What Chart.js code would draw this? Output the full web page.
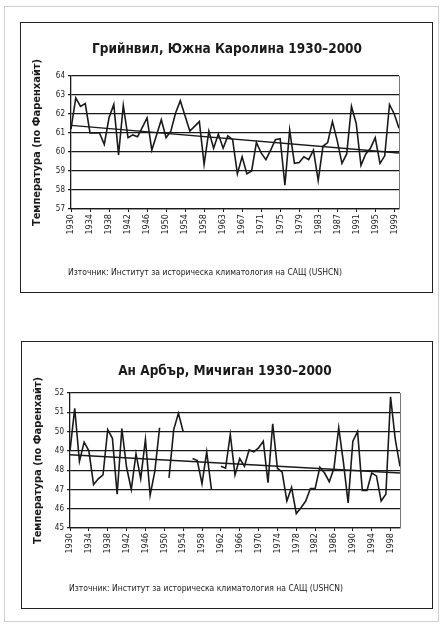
<!DOCTYPE html>
<html>
<head>
<meta charset="utf-8">
<script src="https://cdn.jsdelivr.net/npm/chart.js@4.4.0/dist/chart.umd.min.js"></script>
<style>
  body { margin: 0; background: #fff; width: 442px; height: 626px; position: relative; overflow: hidden;
         font-family: 'Liberation Sans Narrow', 'DejaVu Sans Condensed', 'Liberation Sans', sans-serif; }
  .page { position: absolute; left: 4px; top: 6px; width: 433px; height: 614px; border: 1px solid #cfcfcf; }
  .frame { position: absolute; border: 1.5px solid #222; }
  canvas { position: absolute; }
  .note { position: absolute; font-size: 8.5px; color: #222; white-space: nowrap; }
  .title { position: absolute; width: 400px; height: 18px; line-height: 18px; text-align: center;
           font-size: 13.5px; font-weight: bold; color: #1a1a1a; white-space: nowrap; }
</style>
</head>
<body>
<div class="page"></div>
<div class="frame" style="left:20px;top:22px;width:411px;height:269px"></div>
<div class="frame" style="left:21px;top:341px;width:410px;height:266px"></div>
<canvas id="chartTop" style="left:21px;top:23px" width="412" height="270"></canvas>
<canvas id="chartBottom" style="left:22px;top:342px" width="410" height="266"></canvas>
<div class="title" style="left:27px;top:39px">Грийнвил, Южна Каролина 1930–2000</div>
<div class="title" style="left:25px;top:361px">Ан Арбър, Мичиган 1930–2000</div>
<div class="note" style="left:68px;top:267px">Източник: Институт за историческа климатология на САЩ (USHCN)</div>
<div class="note" style="left:69px;top:583px">Източник: Институт за историческа климатология на САЩ (USHCN)</div>

<script>
// ---- данни: Грийнвил, Южна Каролина (една година липсва в източника) ----
const yearsTop = ['1930','1931','1932','1933','1934','1935','1936','1937','1938','1939',
  '1940','1941','1942','1943','1944','1945','1946','1947','1948','1949',
  '1950','1951','1952','1953','1954','1955','1956','1957','1958','1959',
  '1960','1962','1963','1964','1965','1966','1967','1968','1969','1970',
  '1971','1972','1973','1974','1975','1976','1977','1978','1979','1980',
  '1981','1982','1983','1984','1985','1986','1987','1988','1989','1990',
  '1991','1992','1993','1994','1995','1996','1997','1998','1999','2000'];
const tempGreenville = [61.2, 62.85, 62.4, 62.55, 61.0, 61.0, 61.0, 60.4, 61.8, 62.5,
  59.85, 62.45, 60.75, 60.9, 60.8, 61.3, 61.8, 60.1, 60.9, 61.7,
  60.75, 61.1, 62.05, 62.7, 61.9, 61.1, 61.35, 61.6, 59.35, 61.1,
  60.2, 60.95, 60.2, 60.85, 60.65, 58.85, 59.75, 58.85, 59.0, 60.5,
  59.95, 59.6, 60.1, 60.65, 60.7, 58.25, 61.15, 59.4, 59.45, 59.75,
  59.6, 60.1, 58.5, 60.3, 60.5, 61.6, 60.6, 59.4, 59.9, 62.4,
  61.5, 59.3, 59.9, 60.2, 60.75, 59.4, 59.8, 62.5, 62.0, 61.25];
const trendGreenville = [61.4, 59.95];   // начало и край на линията на тренда

// ---- данни: Ан Арбър, Мичиган (null = липсваща година) ----
const yearsBottom = ['1930','1931','1932','1933','1934','1935','1936','1937','1938','1939',
  '1940','1941','1942','1943','1944','1945','1946','1947','1948','1949',
  '1950','1951','1952','1953','1954','1955','1956','1957','1958','1959',
  '1960','1961','1962','1963','1964','1965','1966','1967','1968','1969',
  '1970','1971','1972','1973','1974','1975','1976','1977','1978','1979',
  '1980','1981','1982','1983','1984','1985','1986','1987','1988','1989',
  '1990','1991','1992','1993','1994','1995','1996','1997','1998','1999','2000'];
const tempAnnArbor = [49.0, 51.2, 48.45, 49.45, 49.0, 47.25, 47.55, 47.75, 50.1, 49.65,
  46.75, 50.15, 48.15, 47.0, 48.85, 47.55, 49.6, 46.7, 47.95, 50.2,
  null, 47.6, 50.1, 50.95, 50.0, null, 48.6, 48.5, 47.3, 48.95,
  47.0, null, 48.2, 48.1, 49.85, 47.75, 48.6, 48.2, 49.05, 48.95,
  49.15, 49.5, 47.35, 50.4, 48.1, 47.9, 46.4, 47.1, 45.75, 46.05,
  46.4, 47.05, 47.05, 48.15, 47.85, 47.4, 48.1, 50.2, 48.4, 46.3,
  49.5, 50.0, 46.95, 46.95, 47.85, 47.7, 46.4, 46.75, 51.8, 49.6,
  48.2];
const trendAnnArbor = [48.8, 47.85];

const FONT = "'Liberation Sans Narrow', 'DejaVu Sans Condensed', 'Liberation Sans', sans-serif";
const INK = '#1a1a1a';

// тънка рамка от дясната страна на графиката
const plotFrame = {
  id: 'plotFrame',
  afterDraw(chart) {
    const a = chart.chartArea, ctx = chart.ctx;
    ctx.save();
    ctx.strokeStyle = '#777';
    ctx.lineWidth = 1;
    ctx.beginPath();
    ctx.moveTo(a.right + 0.5, a.top);
    ctx.lineTo(a.right + 0.5, a.bottom);
    ctx.stroke();
    ctx.restore();
  }
};

function napraviGrafika(id, years, temps, trend, yMin, yMax, g) {
  const ctx = document.getElementById(id).getContext('2d');
  new Chart(ctx, {
    type: 'line',
    data: {
      labels: years,
      datasets: [
        { data: temps, borderColor: INK, borderWidth: 1.6, pointRadius: 0, tension: 0, spanGaps: false },
        { data: [{ x: years[0], y: trend[0] }, { x: years[years.length - 1], y: trend[1] }],
          borderColor: INK, borderWidth: 1.4, pointRadius: 0, tension: 0 }
      ]
    },
    options: {
      responsive: false,
      animation: false,
      layout: { padding: { left: 0, right: g.right, top: g.top, bottom: 0 } },
      plugins: {
        legend: { display: false },
        tooltip: { enabled: false },
        title: { display: false }
      },
      scales: {
        x: {
          offset: false,
          afterFit: s => { s.height = g.xHeight; },
          grid: { drawOnChartArea: false, drawTicks: true, tickLength: 3,
                  color: c => (c.index % 4 === 0 ? INK : 'rgba(0,0,0,0)') },
          border: { color: INK, width: 1.3 },
          ticks: {
            autoSkip: false, maxRotation: 90, minRotation: 90, padding: 2, color: INK,
            font: { family: FONT, size: 9 },
            callback: (v, i) => (i % 4 === 0 ? years[i] : '')
          }
        },
        y: {
          min: yMin, max: yMax,
          afterFit: s => { s.width = g.yWidth; },
          grid: { color: INK, lineWidth: 1.2, drawTicks: true, tickLength: 3 },
          border: { color: INK, width: 1.3 },
          ticks: { stepSize: 1, padding: 3, color: INK, font: { family: FONT, size: 8 } },
          title: {
            display: true, text: 'Температура (по Фаренхайт)', color: INK,
            font: { family: FONT, size: 11, weight: 'bold' },
            padding: { top: 10, bottom: 0 }
          }
        }
      }
    },
    plugins: [plotFrame]
  });
}

napraviGrafika('chartTop', yearsTop, tempGreenville, trendGreenville, 57, 64,
  { top: 53, right: 34, xHeight: 84, yWidth: 50 });
napraviGrafika('chartBottom', yearsBottom, tempAnnArbor, trendAnnArbor, 45, 52,
  { top: 51, right: 32, xHeight: 80, yWidth: 48 });
</script>
</body>
</html>
